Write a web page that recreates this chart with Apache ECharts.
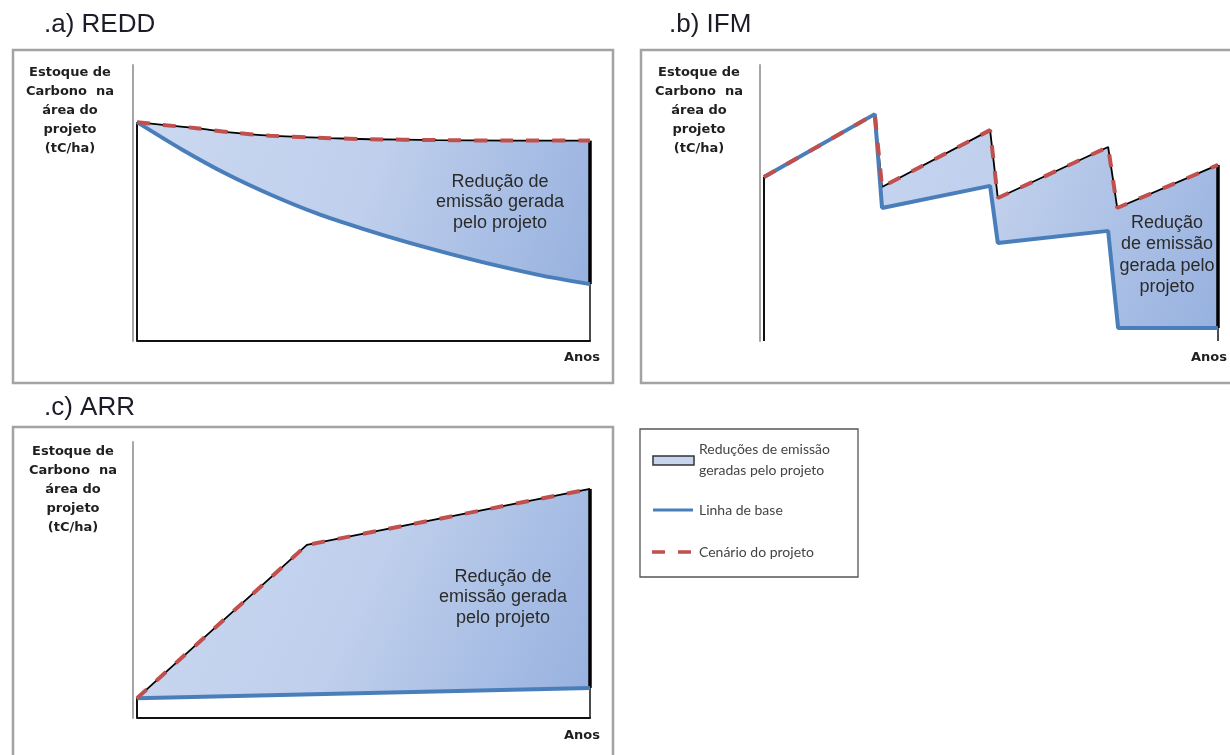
<!DOCTYPE html>
<html><head><meta charset="utf-8">
<script src="https://cdn.jsdelivr.net/npm/echarts@6/dist/echarts.min.js"></script>
<style>html,body{margin:0;padding:0;background:#fff;} #c{width:1230px;height:755px;}</style>
</head><body><div id="c"></div>
<script>
// Values in relative units: x = years (0-100 % of the period), y = carbon stock (0-100 relative)
// a) REDD
const reddProject = [[0,79.3],[5.7,78.3],[13.2,77.1],[20.5,75.6],[29.4,74.4],[42.6,73.5],[51.4,73.1],[66.2,72.8],[82.3,72.6],[100,72.6]];
const reddBaseline = [[0,79.3],[9.9,69.4],[19.9,60.4],[29.8,52.8],[39.7,46.2],[49.7,40.7],[59.6,35.8],[69.5,31.4],[79.5,27.3],[89.4,23.7],[100,20.6]];
// b) IFM
const ifmProject = [[0,59.4],[24.4,82.2],[26.0,55.8],[49.8,76.4],[51.5,51.8],[75.8,70.3],[77.8,48.2],[100,63.8]];
const ifmBaseline = [[0,59.4],[24.4,82.2],[26.0,48.2],[49.8,56.2],[51.5,35.5],[75.8,39.9],[78.0,4.7],[100,4.7]];
// c) ARR
const arrProject = [[0,7.2],[37.5,62.7],[100,83.0]];
const arrBaseline = [[0,7.2],[100,10.9]];

const panelTitles = ['.a) REDD', '.b) IFM', '.c) ARR'];
const yLabelLines = ['Estoque de', 'Carbono  na', 'área do', 'projeto', '(tC/ha)'];
const xLabel = 'Anos';
const areaTextWide = ['Redução de', 'emissão gerada', 'pelo projeto'];
const areaTextNarrow = ['Redução', 'de emissão', 'gerada pelo', 'projeto'];
const legendLabels = [['Reduções de emissão', 'geradas pelo projeto'], ['Linha de base'], ['Cenário do projeto']];

const BLUE = '#4a7ebb', RED = '#c0504d';

const chart = echarts.init(document.getElementById('c'), null, {renderer: 'canvas', width: 1230, height: 755});

const panels = [
  {proj: reddProject, base: reddBaseline, bottomLine: true, smooth: 0.25},
  {proj: ifmProject, base: ifmBaseline, bottomLine: false, smooth: false},
  {proj: arrProject, base: arrBaseline, bottomLine: true, smooth: false}
];

const grids = [
  {left: 137, top: 65, width: 453, height: 276},
  {left: 764, top: 65, width: 454, height: 276},
  {left: 137, top: 442, width: 453, height: 276}
];

const xAxes = panels.map((p, i) => ({
  gridIndex: i, type: 'value', min: 0, max: 100,
  axisLine: {show: p.bottomLine, onZero: false, lineStyle: {color: '#111', width: 2}},
  axisTick: {show: false}, axisLabel: {show: false}, splitLine: {show: false}
}));
const yAxes = panels.map((p, i) => ({
  gridIndex: i, type: 'value', min: 0, max: 100, offset: 4,
  axisLine: {show: true, onZero: false, lineStyle: {color: '#a6a6a6', width: 2}},
  axisTick: {show: false}, axisLabel: {show: false}, splitLine: {show: false}
}));

function lineSeries(i, data, style, z, smooth) {
  return {type: 'line', xAxisIndex: i, yAxisIndex: i, data: data, showSymbol: false, symbol: 'none',
    silent: true, animation: false, z: z, lineStyle: style, clip: false, smooth: smooth || false};
}

const series = [];
panels.forEach((p, i) => {
  const P = p.proj, B = p.base;
  series.push({
    type: 'custom', xAxisIndex: i, yAxisIndex: i, data: [[0, 0]], silent: true, animation: false, z: 1, clip: false,
    renderItem: function (params, api) {
      const pts = P.map(d => api.coord(d)).concat(B.slice().reverse().map(d => api.coord(d)));
      return {type: 'polygon', shape: {points: pts}, style: {
        fill: new echarts.graphic.LinearGradient(0, 0, 1, 1, [
          {offset: 0, color: '#cbd8f0'}, {offset: 0.5, color: '#bfcfec'}, {offset: 1, color: '#97b1df'}])
      }};
    }
  });
  const pEnd = P[P.length - 1][1], bEnd = B[B.length - 1][1];
  series.push(lineSeries(i, [[0, 0], [0, P[0][1]]], {color: '#111', width: 2}, 2));
  series.push(lineSeries(i, [[100, 0], [100, bEnd]], {color: '#111', width: 1.5}, 2));
  series.push(lineSeries(i, [[100, bEnd], [100, pEnd]], {color: '#000', width: 3.5}, 2));
  series.push(lineSeries(i, P, {color: '#000', width: 1.8}, 3, p.smooth));
  series.push(lineSeries(i, B, {color: BLUE, width: 4}, 4, p.smooth));
  series.push(lineSeries(i, P, {color: RED, width: 4, type: [13, 13]}, 5, p.smooth));
});

const graphics = [];
// panel frames
[[13, 50, 600, 333], [641, 50, 620, 333], [13, 427, 600, 400]].forEach(r => {
  graphics.push({type: 'rect', z: -10, silent: true, shape: {x: r[0], y: r[1], width: r[2], height: r[3]},
    style: {fill: 'none', stroke: '#a3a3a3', lineWidth: 2.5}});
});
// titles
[[44, 25], [669, 25], [44, 408]].forEach((pos, i) => {
  graphics.push({type: 'text', z: 50, x: pos[0], y: pos[1], style: {text: panelTitles[i], fill: '#1c1c28',
    font: '26px "Liberation Sans", Arial, sans-serif', verticalAlign: 'middle', align: 'left'}});
});
// y labels
[[70, 73], [699, 73], [73, 452]].forEach(pos => {
  yLabelLines.forEach((t, k) => {
    graphics.push({type: 'text', z: 50, x: pos[0], y: pos[1] + k * 19, style: {text: t, fill: '#1f1f1f',
      font: 'bold 13px "DejaVu Sans", sans-serif', align: 'center', verticalAlign: 'middle'}});
  });
});
// x labels
[[582, 358], [1209, 358], [582, 736]].forEach(pos => {
  graphics.push({type: 'text', z: 50, x: pos[0], y: pos[1], style: {text: xLabel, fill: '#1f1f1f',
    font: 'bold 13px "DejaVu Sans", sans-serif', align: 'center', verticalAlign: 'middle'}});
});
// area annotations
function areaText(lines, cx, y0, dy) {
  lines.forEach((t, k) => {
    graphics.push({type: 'text', z: 50, x: cx, y: y0 + k * dy, style: {text: t, fill: '#2a2a2a',
      font: '18px "Liberation Sans", Arial, sans-serif', align: 'center', verticalAlign: 'middle'}});
  });
}
areaText(areaTextWide, 500, 182, 20.5);
areaText(areaTextNarrow, 1167, 223, 21.3);
areaText(areaTextWide, 503, 577, 20.5);
// legend box
graphics.push({type: 'rect', z: -10, silent: true, shape: {x: 640, y: 429, width: 218, height: 148},
  style: {fill: '#fff', stroke: '#555', lineWidth: 1.3}});
graphics.push({type: 'rect', z: 10, shape: {x: 653, y: 456, width: 41, height: 9},
  style: {fill: '#c6d4ee', stroke: '#333', lineWidth: 1.5}});
graphics.push({type: 'line', z: 10, shape: {x1: 653, y1: 510, x2: 693, y2: 510}, style: {stroke: BLUE, lineWidth: 3}});
graphics.push({type: 'line', z: 10, shape: {x1: 652, y1: 552, x2: 692, y2: 552}, style: {stroke: RED, lineWidth: 3.5, lineDash: [13, 13]}});
const legendY = [[449, 470], [510], [552]];
legendLabels.forEach((lines, k) => {
  lines.forEach((t, j) => {
    graphics.push({type: 'text', z: 50, x: 699, y: legendY[k][j], style: {text: t, fill: '#444',
      font: '14px Lato, "Open Sans", sans-serif', align: 'left', verticalAlign: 'middle'}});
  });
});

chart.setOption({
  animation: false,
  backgroundColor: '#fff',
  grid: grids,
  xAxis: xAxes,
  yAxis: yAxes,
  series: series,
  graphic: {elements: graphics}
});
</script>
</body></html>
